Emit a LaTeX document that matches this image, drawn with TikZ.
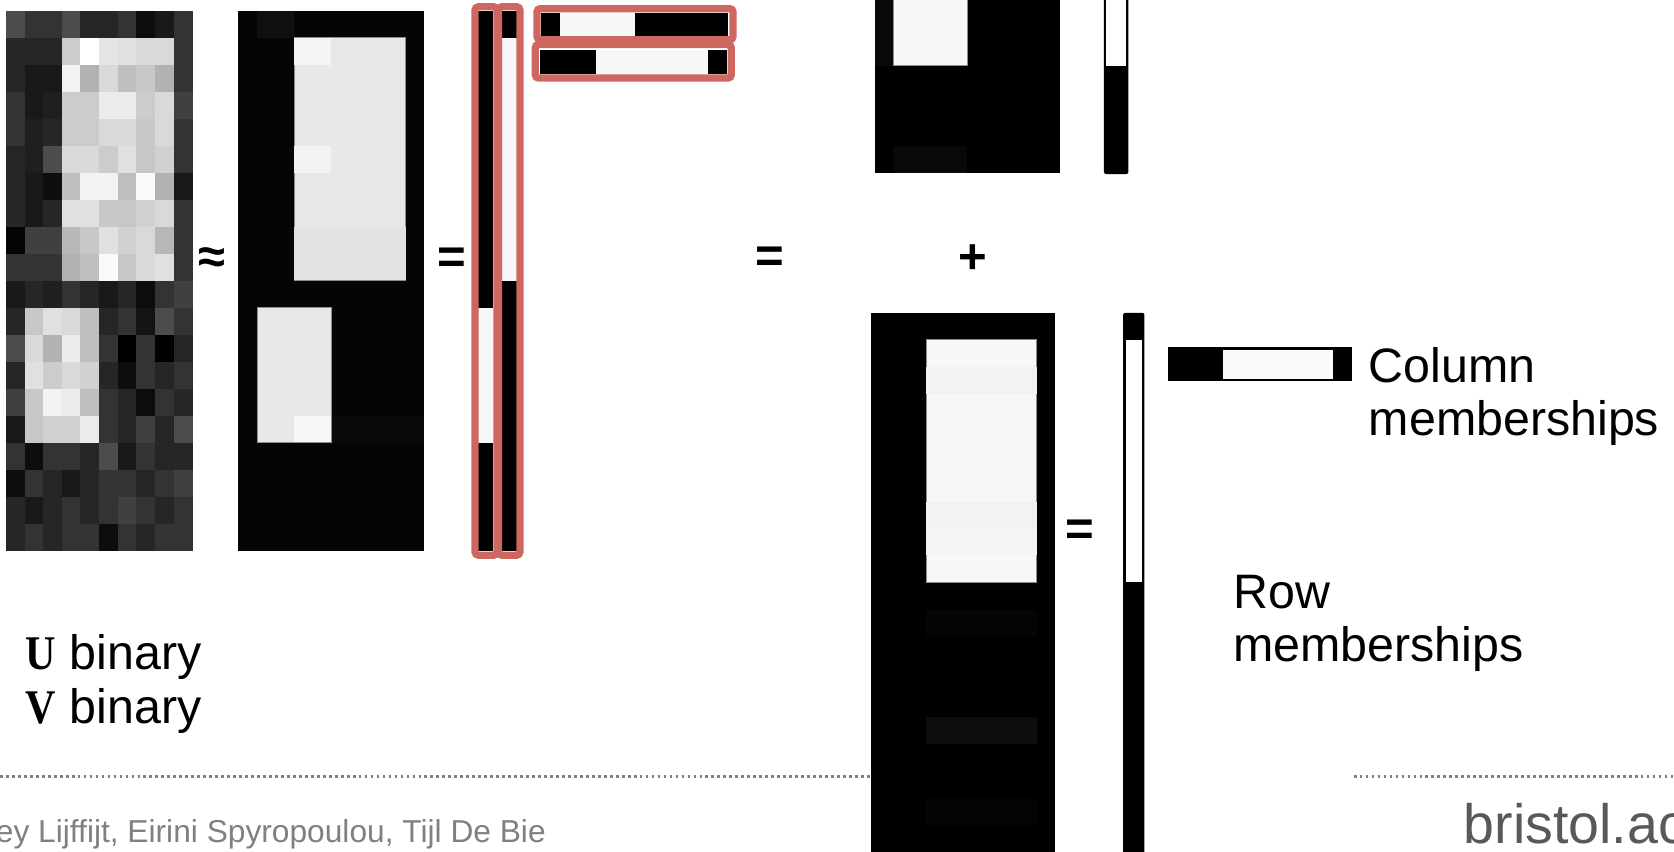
\documentclass[tikz,border=0pt]{standalone}
\usepackage{fontspec}
\setmainfont{Liberation Sans}
\newfontfamily\ubf[FakeStretch=0.87]{Liberation Serif}
\definecolor{hl}{RGB}{205,103,96}
\begin{document}
\begin{tikzpicture}[x=1pt,y=-1pt,
  hlbox/.style={draw=hl, line width=6.8pt, rounded corners=3pt},
  lbl/.style={inner sep=0pt, anchor=base west, font=\fontsize{45.3}{50}\selectfont},
  sign/.style={inner sep=0pt, font=\bfseries\fontsize{46}{50}\selectfont},
  dotline/.style={draw=black!50, line width=2.6pt, dash pattern=on 2.6pt off 3pt},
  lightcell/.style={fill=white!91!black}]
\useasboundingbox (0,0) rectangle (1568,798);
\clip (0,0) rectangle (1568,798);
\fill[white] (0,0) rectangle (1568,798);

% ---------- data matrix ----------
\def\xo{5.6}\def\yo{10}\def\cw{17.44}\def\ch{25.3}
\foreach \row [count=\r from 0] in {
 {30,20,20,30,15,15,20,5,10,20},
 {15,15,15,80,100,90,88,85,85,20},
 {15,10,10,95,70,85,75,78,70,20},
 {20,10,12,80,80,92,92,80,85,25},
 {20,12,15,80,80,85,85,78,85,20},
 {15,12,30,85,85,80,88,78,82,20},
 {15,10,5,75,95,95,75,98,70,10},
 {15,10,15,88,88,78,78,82,85,20},
 {2,25,25,72,78,88,82,85,72,20},
 {20,20,20,70,75,98,78,85,88,20},
 {10,15,12,20,15,10,15,5,20,25},
 {15,78,88,85,75,15,20,8,30,20},
 {30,85,70,92,75,20,0,20,0,15},
 {15,88,80,85,82,15,5,20,15,20},
 {25,78,95,92,75,20,15,5,20,15},
 {10,78,82,82,92,20,15,25,15,30},
 {20,5,20,20,15,30,10,20,15,15},
 {5,20,15,10,15,20,20,15,20,25},
 {15,10,15,20,15,20,25,20,15,20},
 {15,20,15,20,20,5,20,15,20,20}} {
  \foreach \v [count=\c from 0] in \row {
    \fill[white!\v!black] ({\xo+\c*\cw},{\yo+\r*\ch}) rectangle ++(\cw+0.4,\ch+0.4);
  }
}

% ---------- approximation matrix ----------
\fill[white!2!black] (223.3,10) rectangle (397.5,516);
\fill[white!6!black] (240.7,10) rectangle (275.6,35.3);
\fill[white!4!black] (310.4,389.5) rectangle (397.5,414.8);
\fill[lightcell, draw=black!45, line width=0.8pt] (275.6,35.3) rectangle (380.1,263);
\fill[white!96!black] (275.6,35.3) rectangle (310.4,60.6);
\fill[white!95!black] (275.6,136.5) rectangle (310.4,161.8);
\fill[white!89!black] (275.6,212.4) rectangle (380.1,262.6);
\fill[lightcell, draw=black!45, line width=0.8pt] (240.7,288.3) rectangle (310.4,414.8);
\fill[white!97!black] (275.6,389.5) rectangle (310.2,414.4);

% ---------- U columns ----------
\fill[black] (448,10) rectangle (462,516);
\fill[white!97!black] (448,288.3) rectangle (462,414.8);
\fill[black] (470,10) rectangle (484,516);
\fill[white!97!black] (470,35.3) rectangle (484,263);
\draw[hlbox] (445,6.4) rectangle (465.5,520);
\draw[hlbox] (467,6.4) rectangle (487,520);

% ---------- V rows ----------
\fill[black] (507,11.9) rectangle (682,33.7);
\fill[white!97!black] (524.5,11.9) rectangle (594.5,33.7);
\fill[black] (506,46.8) rectangle (681,69.3);
\fill[white!97!black] (558.5,46.8) rectangle (663.5,69.3);
\draw[hlbox] (503,8.1) rectangle (686.6,37.2);
\draw[hlbox] (501.4,41.7) rectangle (685,73.1);

% ---------- top-right component ----------
\fill[black] (819.6,-5) rectangle (992.9,162.4);
\fill[white!3!black] (819.6,-5) rectangle (836.9,61.4);
\fill[white!3!black] (836.9,137) rectangle (906.2,162.4);
\fill[white!97!black, draw=black!45, line width=0.8pt] (836.9,-5) rectangle (906.2,61.4);
\fill[black, rounded corners=2pt] (1034,-8) rectangle (1057,163);
\fill[white] (1036.4,-8) rectangle (1054.6,61.4);

% ---------- bottom-right component ----------
\fill[black] (815.9,293) rectangle (988.2,805);
\fill[white!97!black, draw=black!45, line width=0.8pt] (867.6,318.25) rectangle (971,545.5);
\fill[white!95!black] (867.6,343.5) rectangle (971,368.75);
\fill[white!95!black] (867.6,469.75) rectangle (971,495);
\fill[white!96!black] (867.6,495) rectangle (971,520.25);
\fill[white!2!black] (867.6,571) rectangle (971,596);
\fill[white!5!black] (867.6,672) rectangle (971,697);
\fill[white!2!black] (867.6,748) rectangle (971,773);
\fill[black, rounded corners=2pt] (1052,293) rectangle (1072,810);
\fill[white] (1054.4,318.25) rectangle (1069.6,545.5);

% column membership vector
\fill[black] (1094,325) rectangle (1266,357);
\fill[white!98!black] (1145.3,327.4) rectangle (1249,354.6);

% ---------- signs ----------
\node[sign] (approx) at (199,244) {≈};
\node[sign] (eqA) at (423,244) {=};
\node[sign] (eqB) at (720.7,243.5) {=};
\node[sign] (plus) at (911.6,243) {+};
\node[sign] (eqC) at (1011,499) {=};

% ---------- labels ----------
\node[lbl] (colA) at (1282,358) {Column};
\node[lbl] (colB) at (1282,408) {memberships};
\node[lbl] (rowA) at (1155,570) {Row};
\node[lbl] (rowB) at (1155,620) {memberships};
\node[lbl] (ubin) at (24,627) {{\ubf\bfseries U} binary};
\node[lbl] (vbin) at (24,678) {{\ubf\bfseries V} binary};

% ---------- footer ----------
\coordinate (dl1) at (0,727);
\coordinate (dl2) at (815,727);
\coordinate (dr1) at (1268,727);
\coordinate (dr2) at (1568,727);
\draw[dotline] (dl1) -- (dl2);
\draw[dotline] (dr1) -- (dr2);
\node[inner sep=0pt, anchor=base west, text=black!50, font=\fontsize{29.7}{36}\selectfont] (auth) at (-4,789) {ey Lijffijt, Eirini Spyropoulou, Tijl De Bie};
\node[inner sep=0pt, anchor=base west, text=black!65, font=\fontsize{52}{60}\selectfont] (bris) at (1371,790) {bristol.ac};
\end{tikzpicture}
\end{document}
